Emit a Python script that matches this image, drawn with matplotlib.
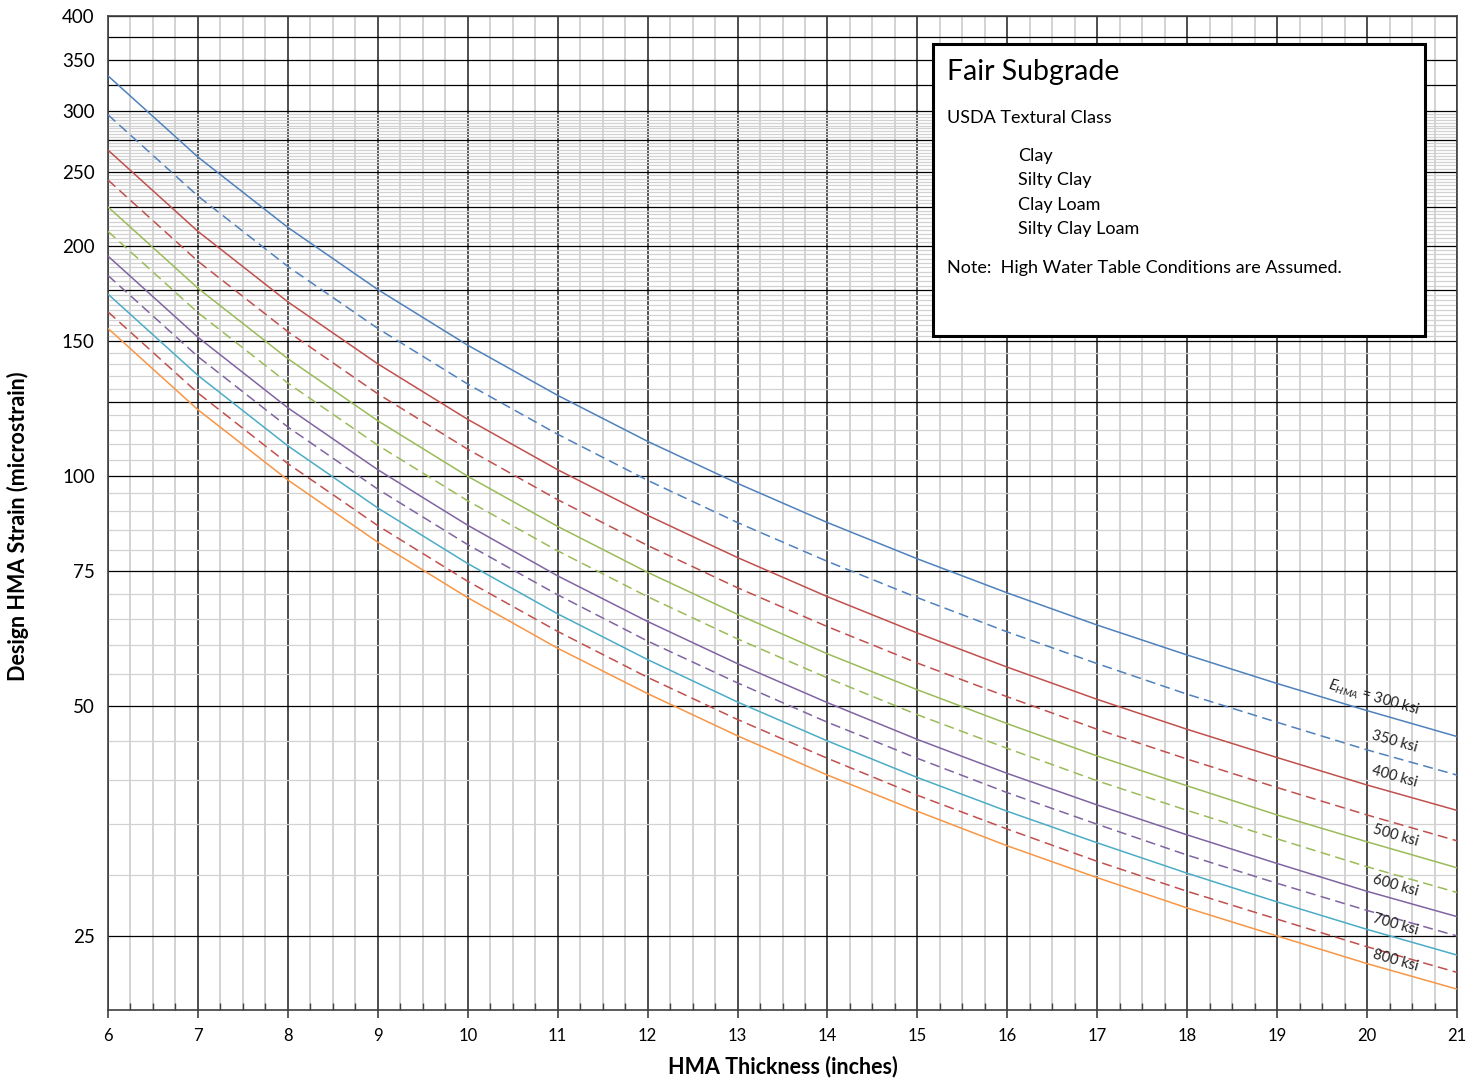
import numpy as np
import matplotlib.pyplot as plt
from matplotlib.patches import Rectangle
from matplotlib.ticker import FixedLocator, FixedFormatter

plt.rcParams['font.family'] = ['Lato', 'DejaVu Sans']
plt.rcParams['mathtext.fontset'] = 'custom'
plt.rcParams['mathtext.rm'] = 'Lato'
plt.rcParams['mathtext.it'] = 'Lato:italic'

# HMA thickness (inches)
thickness = [6, 7, 8, 9, 10, 11, 12, 13, 14, 15, 16, 17, 18, 19, 20, 21]

# design strain (microstrain), one list per E_HMA
strain_300 = [334, 261.5, 211.5, 175.4, 148.3, 127.5, 111.0, 97.8, 86.9, 77.9, 70.3, 63.8, 58.3, 53.5, 49.3, 45.6]
strain_350 = [297, 232.5, 188.0, 156.0, 131.9, 113.4, 98.7, 86.9, 77.3, 69.3, 62.5, 56.8, 51.8, 47.6, 43.8, 40.6]
strain_400 = [267, 209.0, 169.0, 140.2, 118.6, 101.9, 88.8, 78.2, 69.5, 62.3, 56.2, 51.0, 46.6, 42.8, 39.4, 36.5]
strain_450 = [244, 191.0, 154.5, 128.1, 108.4, 93.1, 81.1, 71.4, 63.5, 56.9, 51.4, 46.6, 42.6, 39.1, 36.0, 33.3]
strain_500 = [225, 176.1, 142.4, 118.1, 99.9, 85.9, 74.8, 65.9, 58.5, 52.5, 47.4, 43.0, 39.3, 36.0, 33.2, 30.7]
strain_550 = [209, 163.6, 132.3, 109.7, 92.8, 79.8, 69.5, 61.2, 54.4, 48.7, 44.0, 39.9, 36.5, 33.5, 30.8, 28.5]
strain_600 = [194, 151.9, 122.8, 101.9, 86.2, 74.0, 64.5, 56.8, 50.5, 45.2, 40.8, 37.1, 33.9, 31.1, 28.6, 26.5]
strain_650 = [183, 143.3, 115.9, 96.1, 81.3, 69.9, 60.8, 53.6, 47.6, 42.7, 38.5, 35.0, 31.9, 29.3, 27.0, 25.0]
strain_700 = [173, 135.4, 109.5, 90.8, 76.8, 66.0, 57.5, 50.6, 45.0, 40.3, 36.4, 33.1, 30.2, 27.7, 25.5, 23.6]
strain_750 = [164, 128.4, 103.8, 86.1, 72.8, 62.6, 54.5, 48.0, 42.7, 38.2, 34.5, 31.3, 28.6, 26.3, 24.2, 22.4]
strain_800 = [156, 122.1, 98.8, 81.9, 69.3, 59.5, 51.9, 45.7, 40.6, 36.4, 32.8, 29.8, 27.2, 25.0, 23.0, 21.3]

# y axis ticks
y_major = [25, 50, 75, 100, 125, 150, 175, 200, 225, 250, 275, 300, 325, 350, 375, 400]
y_labels = ['25', '50', '75', '100', '', '150', '', '200', '', '250', '', '300', '', '350', '', '400']
y_minor = [v for v in np.arange(30, 150, 5) if v % 25] + [v for v in np.arange(152.5, 300, 2.5) if v % 25]

# curve annotations
label_text = [r'$E_{HMA}$ = 300 ksi', '350 ksi', '400 ksi', '500 ksi', '600 ksi', '700 ksi', '800 ksi']
label_x = [20.07, 20.31, 20.31, 20.32, 20.32, 20.32, 20.32]
label_y = [51.3, 44.9, 40.4, 33.8, 29.1, 25.9, 23.2]

W, H = 1475, 1083
fig = plt.figure(figsize=(W / 100, H / 100), dpi=100)
ax = fig.add_axes([108 / W, 1 - 1010 / H, (1457 - 108) / W, (1010 - 16) / H])

blue, red, green, purple, aqua, orange = '#4F81BD', '#C0504D', '#9BBB59', '#8064A2', '#4BACC6', '#F79646'
series = [
    (strain_300, blue, '-'), (strain_350, blue, '--'),
    (strain_400, red, '-'), (strain_450, red, '--'),
    (strain_500, green, '-'), (strain_550, green, '--'),
    (strain_600, purple, '-'), (strain_650, purple, '--'),
    (strain_700, aqua, '-'), (strain_750, red, '--'),
    (strain_800, orange, '-'),
]
for ys, c, ls in series:
    line, = ax.plot(thickness, ys, color=c, ls=ls, lw=1.1, zorder=3)
    if ls == '--':
        line.set_dashes((6.5, 3.5))

ax.set_yscale('log')
ax.set_xlim(6, 21)
ax.set_ylim(20, 400)

ax.xaxis.set_major_locator(FixedLocator(np.arange(6, 22, 1)))
ax.xaxis.set_minor_locator(FixedLocator(np.arange(6, 21.01, 0.25)))
ax.yaxis.set_major_locator(FixedLocator(y_major))
ax.yaxis.set_major_formatter(FixedFormatter(y_labels))
ax.yaxis.set_minor_locator(FixedLocator(y_minor))
ax.yaxis.set_minor_formatter(FixedFormatter([''] * len(y_minor)))

ax.grid(which='minor', axis='x', color='#cccccc', lw=1.2, zorder=0)
ax.grid(which='minor', axis='y', color='#d2d2d2', lw=0.9, zorder=0)
ax.grid(which='major', axis='y', color='#000000', lw=0.9)
ax.grid(which='major', axis='x', color='#404040', lw=1.3)
ax.set_axisbelow(True)

ax.tick_params(axis='x', which='major', direction='out', length=6, width=1.2, color='#404040',
               labelsize=12, pad=7)
ax.tick_params(axis='x', which='minor', direction='in', length=5, width=1.0, color='#404040')
ax.tick_params(axis='y', which='both', length=0, labelsize=13.5, pad=9.5)
for s in ax.spines.values():
    s.set_color('#404040')
    s.set_linewidth(1.2)

ax.set_xlabel('HMA Thickness (inches)', fontsize=15.5, fontweight='bold', labelpad=8)
ax.set_ylabel('Design HMA Strain (microstrain)', fontsize=15.5, fontweight='bold')
ax.yaxis.set_label_coords(-0.0585, 0.487)

for t, x, y in zip(label_text, label_x, label_y):
    ax.text(x, y, t, rotation=-16, ha='center', va='center', rotation_mode='anchor',
            fontsize=10.5, color='#222222', zorder=4)

# info box
box = Rectangle((933 / W, 1 - 336 / H), (1425 - 933) / W, (336 - 44) / H,
                transform=fig.transFigure, facecolor='white', edgecolor='black', lw=2.2, zorder=2)
fig.add_artist(box)
fig.text(947 / W, 1 - 72 / H, 'Fair Subgrade', fontsize=20.5, va='center', zorder=5)
fig.text(947 / W, 1 - 118 / H, 'USDA Textural Class', fontsize=13, va='center', zorder=5)
for i, name in enumerate(['Clay', 'Silty Clay', 'Clay Loam', 'Silty Clay Loam']):
    fig.text(1018 / W, 1 - (156 + 24.3 * i) / H, name, fontsize=13, va='center', zorder=5)
fig.text(947 / W, 1 - 268 / H, 'Note:  High Water Table Conditions are Assumed.', fontsize=13,
         va='center', zorder=5)

fig.savefig('out.png', dpi=100)
